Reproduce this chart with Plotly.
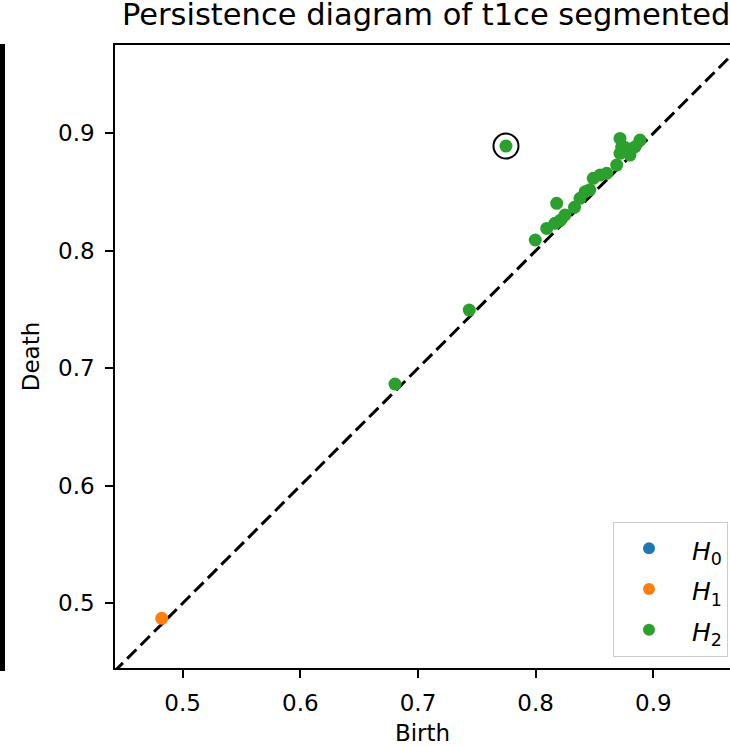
import plotly.graph_objects as go

# ---- data ----
h0_birth = []
h0_death = []

h1_birth = [0.4822]
h1_death = [0.4872]

h2_birth = [0.6805, 0.7436, 0.7748, 0.7997, 0.8094, 0.8164, 0.8179, 0.8250, 0.8377,
            0.8420, 0.8490, 0.8547, 0.8604, 0.8689, 0.8717, 0.8717, 0.8731, 0.8802,
            0.8845, 0.8887, 0.8210, 0.8330, 0.8460, 0.8760]
h2_death = [0.6866, 0.7496, 0.8892, 0.8092, 0.8191, 0.8234, 0.8404, 0.8305, 0.8447,
            0.8503, 0.8617, 0.8645, 0.8660, 0.8730, 0.8957, 0.8830, 0.8886, 0.8815,
            0.8886, 0.8943, 0.8260, 0.8370, 0.8520, 0.8880]

# most persistent point (circled)
top_birth = [0.7748]
top_death = [0.8892]

x_range = [0.4425, 0.9652]
y_range = [0.4449, 0.9752]
diag = [0.43, 0.99]

tick_vals = [0.5, 0.6, 0.7, 0.8, 0.9]
tick_text = ["0.5", "0.6", "0.7", "0.8", "0.9"]

title_text = "Persistence diagram of t1ce segmented"
legend_labels = ["<i>H</i><sub>0</sub>", "<i>H</i><sub>1</sub>", "<i>H</i><sub>2</sub>"]
colors = ["#1f77b4", "#ff7f0e", "#2ca02c"]

W, H = 730, 746
ML, MR, MT, MB = 115, 0, 45, 78
FONT = "DejaVu Sans"

fig = go.Figure()

fig.add_trace(go.Scatter(x=diag, y=diag, mode="lines",
                         line=dict(color="black", width=3, dash="13px,6px"),
                         showlegend=False, hoverinfo="skip"))

for bx, dy, lab, col in [(h0_birth, h0_death, legend_labels[0], colors[0]),
                         (h1_birth, h1_death, legend_labels[1], colors[1]),
                         (h2_birth, h2_death, legend_labels[2], colors[2])]:
    name = "<span style='font-size:25px'>&nbsp;" + lab + "</span>"
    fig.add_trace(go.Scatter(x=bx if bx else [None], y=dy if dy else [None],
                             mode="markers", name=name,
                             marker=dict(color=col, size=13, line=dict(width=0))))

fig.add_trace(go.Scatter(x=top_birth, y=top_death, mode="markers", showlegend=False,
                         marker=dict(symbol="circle-open", size=25, color="black",
                                     line=dict(width=2, color="black"))))

axis_common = dict(showgrid=False, zeroline=False, showline=True, linecolor="black",
                   linewidth=1.5, ticks="outside", ticklen=8, tickwidth=1.5,
                   tickcolor="black", tickvals=tick_vals, ticktext=tick_text,
                   tickfont=dict(family=FONT, size=23, color="black"),
                   automargin=False)

fig.update_xaxes(range=x_range, mirror=True,
                 title=dict(text="Birth", font=dict(family=FONT, size=23, color="black"),
                            standoff=12),
                 ticklabelstandoff=6, **axis_common)
fig.update_yaxes(range=y_range, mirror=False,
                 title=dict(text="Death", font=dict(family=FONT, size=23, color="black"),
                            standoff=12),
                 ticklabelstandoff=6, **axis_common)

# left black bar (edge of neighbouring panel)
fig.add_shape(type="rect", xref="paper", yref="paper",
              x0=-ML / (W - ML - MR), x1=(5 - ML) / (W - ML - MR),
              y0=(668 - 671) / (H - MT - MB), y1=(668 - 44) / (H - MT - MB),
              fillcolor="black", line=dict(width=0), layer="above")

fig.update_layout(
    width=W, height=H,
    margin=dict(l=ML, r=MR, t=MT, b=MB, pad=0),
    paper_bgcolor="white", plot_bgcolor="white",
    font=dict(family=FONT, color="black"),
    title=dict(text=title_text, font=dict(family=FONT, size=30.5, color="black"),
               x=122 / W, xanchor="left", xref="container",
               y=1 - 14 / H, yanchor="middle", yref="container"),
    legend=dict(x=(728 - ML) / (W - ML - MR), xanchor="right",
                y=(668 - 657) / (H - MT - MB), yanchor="bottom",
                bgcolor="white", bordercolor="#cccccc", borderwidth=1,
                font=dict(family=FONT, size=29, color="black"),
                itemsizing="constant", itemwidth=60),
    showlegend=True,
)

fig.write_html("out.html")
